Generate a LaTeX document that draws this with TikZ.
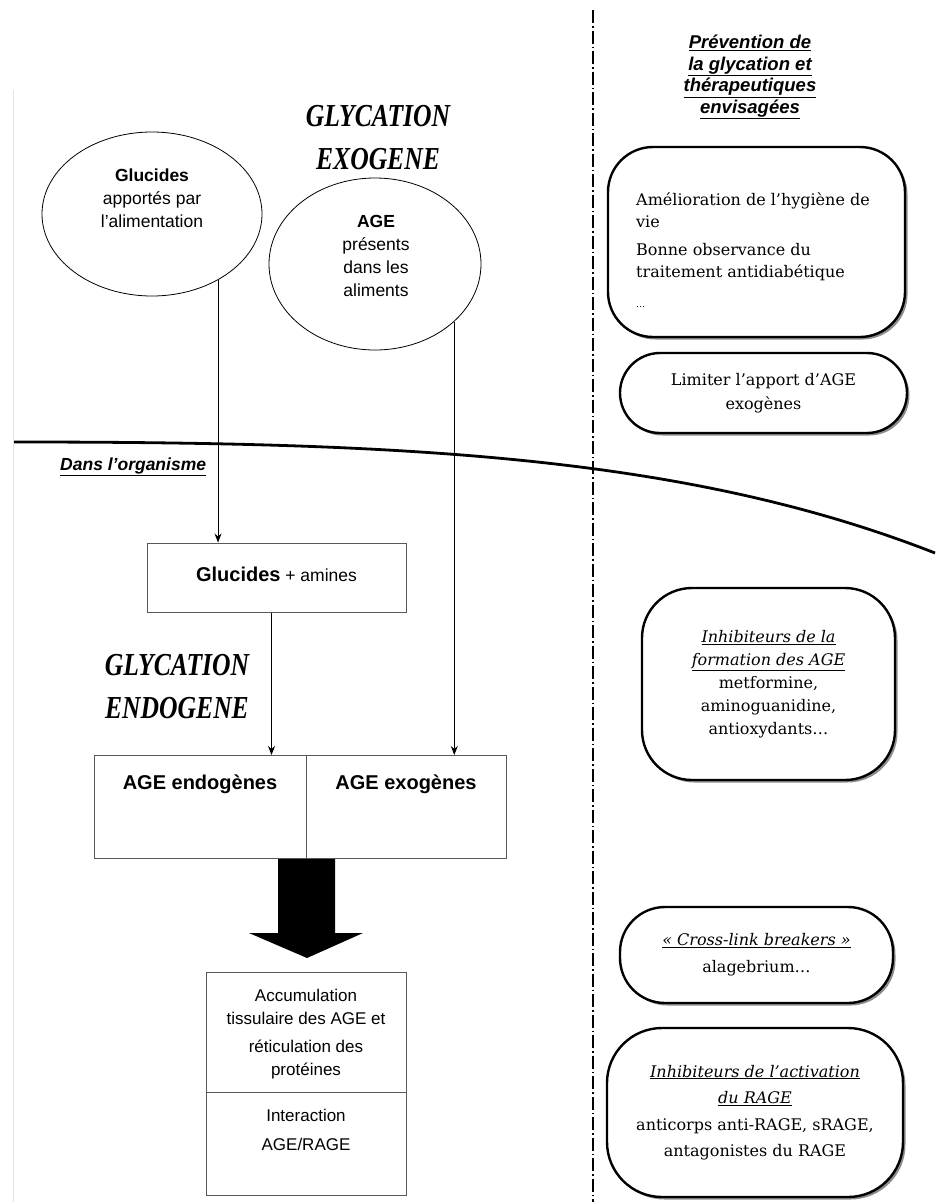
\documentclass[tikz,border=0pt]{standalone}
\usepackage{fontspec}
\setmainfont{DejaVu Serif}
\newfontfamily\sansf{Liberation Sans}
\newfontfamily\titlef{Liberation Serif}
\usetikzlibrary{arrows.meta,shapes.geometric,shadows,calc}
\begin{document}
\begin{tikzpicture}[x=1pt,y=-1pt,
  sanstext/.style={font=\sansf\fontsize{17.5}{23}\selectfont, align=center, inner sep=0pt},
  oval/.style={draw, ellipse, line width=0.8pt, inner sep=0pt},
  plainbox/.style={draw=black!65, line width=1pt, inner sep=0pt},
  roundbox/.style={draw, line width=2.4pt, fill=white, rounded corners=45pt,
     drop shadow={shadow xshift=2.5pt, shadow yshift=-2.5pt, fill=black!45, opacity=1},
     font=\fontsize{16}{23.5}\selectfont, align=center, inner sep=0pt},
  arr/.style={-{Stealth[length=9pt,width=7pt]}, line width=0.9pt},
  bigtitle/.style={font=\titlef\bfseries\itshape\fontsize{32}{43}\selectfont, align=center, inner sep=0pt},
  septline/.style={line width=1.5pt, dash pattern=on 13pt off 3pt on 1.5pt off 3pt},
]
\useasboundingbox (0,0) rectangle (935,1202);
\fill[white] (0,0) rectangle (935,1202);

% faint page edge
\coordinate (pgTop) at (13,90);
\coordinate (pgBot) at (13,1202);
\draw[black!10, line width=0.8pt] (pgTop) -- (pgBot);

% separator
\coordinate (sTop) at (593,10);
\coordinate (sBot) at (593,1202);
\draw[septline] (sTop) -- (sBot);

% organism boundary
\coordinate (bL) at (14,442);
\coordinate (bR) at (935,553);
\draw[line width=2.8pt] (bL) .. controls (400,442) and (685,455) .. (bR);

% titles
\node[bigtitle] (exotitle) at (378,138) {\scalebox{0.8}[1]{GLYCATION}\\\scalebox{0.8}[1]{EXOGENE}};
\node[bigtitle] (endotitle) at (177,687) {\scalebox{0.8}[1]{GLYCATION}\\\scalebox{0.8}[1]{ENDOGENE}};

% ellipses
\node[oval, minimum width=220, minimum height=164] (e1) at (152,214) {};
\node[sanstext] (e1t) at (152,198) {\bfseries Glucides\\apportés par\\l’alimentation};
\node[oval, minimum width=212, minimum height=172] (e2) at (375,264) {};
\node[sanstext] (e2t) at (376,256) {\bfseries AGE\\présents\\dans les\\aliments};

\node[font=\sansf\bfseries\itshape\fontsize{17.5}{20}\selectfont, anchor=west, inner sep=0pt] (dans) at (60,467) {\underline{Dans l’organisme}};

% boxes left
\node[plainbox, minimum width=259, minimum height=69] (gbox) at (276.5,577.5) {};
\node[sanstext] (gboxt) at (276.5,574) {{\bfseries\fontsize{20}{23}\selectfont Glucides} + amines};

\node[plainbox, minimum width=212, minimum height=103, anchor=north west] (endo) at (94,755) {};
\node[plainbox, minimum width=200, minimum height=103, anchor=north west] (exo) at (306,755) {};
\node[sanstext, font=\sansf\bfseries\fontsize{20}{23}\selectfont] (endot) at (200,784) {AGE endogènes};
\node[sanstext, font=\sansf\bfseries\fontsize{20}{23}\selectfont] (exot) at (406,784) {AGE exogènes};

\node[plainbox, minimum width=200, minimum height=120, anchor=north west] (acc) at (206,972) {};
\node[sanstext, font=\sansf\fontsize{17}{22.5}\selectfont] (acct) at (306,1034) {Accumulation\\tissulaire des AGE et\\[6pt]réticulation des\\protéines};
\node[plainbox, minimum width=200, minimum height=103, anchor=north west] (inter) at (206,1092) {};
\node[sanstext, font=\sansf\fontsize{17}{29}\selectfont] (intert) at (306,1130) {Interaction\\AGE/RAGE};

% connectors
\draw[arr] (e1.-45) -- (e1.-45 |- gbox.north);
\draw[arr] (e2.-36.6) -- (e2.-36.6 |- exo.north);
\draw[arr] ([xshift=-5pt]gbox.south) -- ([xshift=-5pt]gbox.south |- endo.north);

% big arrow
\fill ($(endo.south east)+(-29,0)$) -- ++(57,0) -- ++(0,74) -- ++(28,0)
  -- ($(endo.south east)+(0,99)$) -- ++(-58,-25) -- ++(29,0) -- cycle;

% right column
\node[font=\sansf\bfseries\itshape\fontsize{18.5}{21.7}\selectfont, align=center, inner sep=0pt] (prev) at (750,77)
  {\underline{Prévention de}\\\underline{la glycation et}\\\underline{thérapeutiques}\\\underline{envisagées}};

\node[roundbox, minimum width=297, minimum height=190] (rb1) at (756.5,242) {};
\node[font=\fontsize{16}{22}\selectfont, align=left, anchor=west, inner sep=0pt] (rb1t) at (636,250)
  {Amélioration de l’hygiène de\\vie\\[6pt]Bonne observance du\\traitement antidiabétique\\[8pt]{\fontsize{9}{10}\selectfont …}};

\node[roundbox, rounded corners=40pt, minimum width=287, minimum height=80] (rb2) at (763.5,393)
  {Limiter l’apport d’AGE\\exogènes};

\node[roundbox, rounded corners=50pt, minimum width=253, minimum height=192, font=\fontsize{16}{23}\selectfont] (rb3) at (768.5,684)
  {\itshape\underline{Inhibiteurs de la}\\\itshape\underline{formation des AGE}\\metformine,\\aminoguanidine,\\antioxydants…};

\node[roundbox, minimum width=273, minimum height=96, font=\fontsize{16}{27}\selectfont] (rb4) at (756.5,955)
  {\itshape\underline{« Cross-link breakers »}\\alagebrium…};

\node[roundbox, rounded corners=55pt, minimum width=296, minimum height=169, font=\fontsize{16}{26.5}\selectfont] (rb5) at (755,1112.5)
  {\itshape\underline{Inhibiteurs de l’activation}\\\itshape\underline{du RAGE}\\anticorps anti-RAGE, sRAGE,\\antagonistes du RAGE};
\end{tikzpicture}
\end{document}
